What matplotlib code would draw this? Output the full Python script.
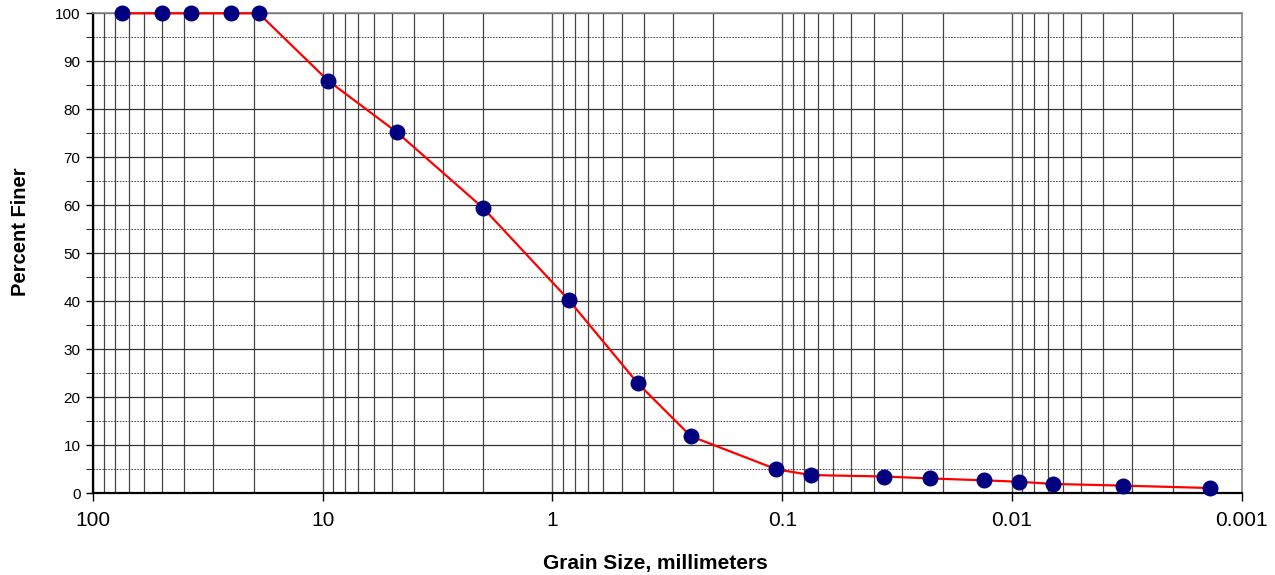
import matplotlib.pyplot as plt
from matplotlib.ticker import LogLocator, NullFormatter, FixedLocator

plt.rcParams['font.family'] = ['Liberation Sans', 'DejaVu Sans']

# Grain size (mm) and percent finer
grain_size = [75, 50, 37.5, 25, 19, 9.5, 4.75, 2.0, 0.85, 0.425, 0.25, 0.106, 0.075,
              0.0359, 0.0228, 0.0132, 0.0093, 0.0066, 0.0033, 0.00137]
percent_finer = [100, 100, 100, 100, 100, 86.0, 75.2, 59.4, 40.3, 22.9, 11.9, 5.0, 3.8,
                 3.5, 3.1, 2.7, 2.4, 1.95, 1.6, 1.1]

x_ticks = [100, 10, 1, 0.1, 0.01, 0.001]
x_tick_labels = ['100', '10', '1', '0.1', '0.01', '0.001']
y_ticks = list(range(0, 101, 10))

fig = plt.figure(figsize=(12.75, 5.75), dpi=100)
ax = fig.add_axes([93 / 1275, 1 - 493.3 / 575, (1241.7 - 93) / 1275, 480 / 575])

ax.set_xscale('log')
ax.set_xlim(100, 0.001)
ax.set_ylim(0, 100)

# vertical grid at every log step, horizontal solid at 10 and dashed at 5
ax.xaxis.set_major_locator(FixedLocator(x_ticks))
ax.xaxis.set_minor_locator(LogLocator(base=10, subs=range(2, 10), numticks=20))
ax.xaxis.set_minor_formatter(NullFormatter())
ax.set_xticks(x_ticks)
ax.set_xticklabels(x_tick_labels)
ax.set_yticks(y_ticks)
ax.set_yticks(list(range(5, 100, 10)), minor=True)

ax.grid(True, which='major', axis='x', color='#555555', linewidth=1.0)
ax.grid(True, which='minor', axis='x', color='#444444', linewidth=0.9)
ax.grid(True, which='major', axis='y', color='#333333', linewidth=0.9)
ax.grid(True, which='minor', axis='y', color='#333333', linewidth=0.6, linestyle=(0, (2, 1.5)))
ax.set_axisbelow(True)

ax.tick_params(axis='x', which='major', direction='out', length=6, width=1,
               labelsize=15, pad=7)
ax.tick_params(axis='x', which='minor', length=0)
ax.tick_params(axis='y', which='major', direction='out', length=5, width=1,
               labelsize=11, pad=4)
ax.tick_params(axis='y', which='minor', direction='out', length=5, width=0.6)

for side in ['left', 'bottom']:
    ax.spines[side].set_color('black')
    ax.spines[side].set_linewidth(1.6)
for side in ['top', 'right']:
    ax.spines[side].set_color('#888888')
    ax.spines[side].set_linewidth(1.2)

ax.plot(grain_size, percent_finer, color='red', linewidth=1.6, marker='o',
        markersize=10.5, markerfacecolor='#000080', markeredgecolor='#000080',
        clip_on=False, zorder=3)

fig.text(655 / 1275, 1 - 564 / 575, 'Grain Size, millimeters', ha='center', va='center',
         fontsize=15, fontweight='bold')
fig.text(20.5 / 1275, 1 - 232 / 575, 'Percent Finer', ha='center', va='center',
         rotation=90, fontsize=14.5, fontweight='bold')

fig.savefig('out.png', dpi=100, facecolor='white')
